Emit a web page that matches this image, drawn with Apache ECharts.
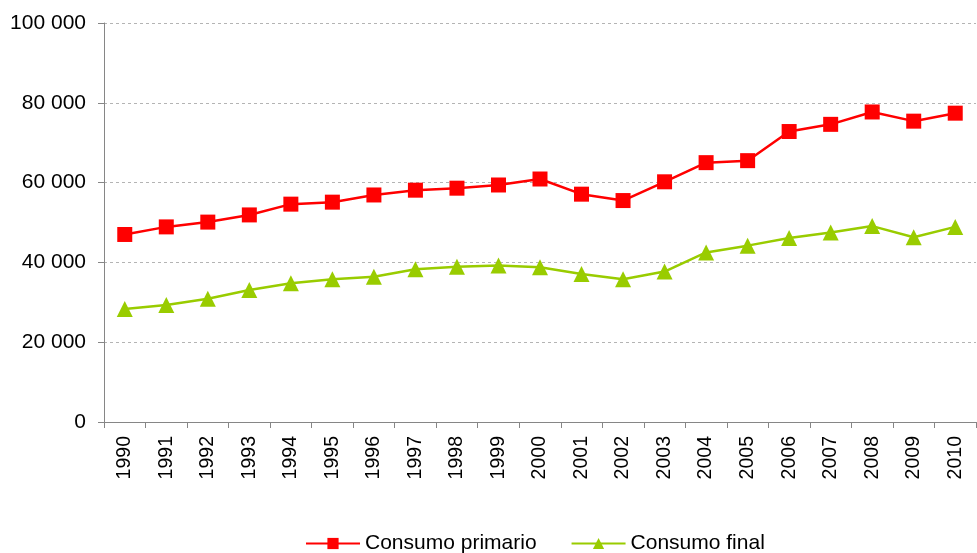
<!DOCTYPE html>
<html><head><meta charset="utf-8">
<script src="https://cdn.jsdelivr.net/npm/echarts@6/dist/echarts.min.js"></script>
<style>html,body{margin:0;padding:0;background:#fff}#c{width:977px;height:553px}</style>
</head><body><div id="c"></div>
<script>
const years = ['1990','1991','1992','1993','1994','1995','1996','1997','1998','1999','2000','2001','2002','2003','2004','2005','2006','2007','2008','2009','2010'];
const primario = [47000,48900,50100,51900,54600,55100,56900,58100,58600,59400,60900,57100,55500,60200,65000,65500,72800,74600,77700,75400,77400];
const final = [28300,29300,30900,33100,34800,35800,36400,38300,38900,39200,38800,37100,35800,37700,42500,44200,46100,47500,49100,46300,48900];
const seriesNames = ['Consumo primario','Consumo final'];

const chart = echarts.init(document.getElementById('c'));
const font = 'Liberation Sans, Arial, sans-serif';
chart.setOption({
  animation:false,
  textStyle:{fontFamily:font},
  grid:{left:104,right:1,top:23,bottom:131,containLabel:false},
  legend:{
    bottom:-6,left:300,itemWidth:54,itemHeight:14,itemGap:34,
    textStyle:{fontSize:21,color:'#000',fontFamily:font},
    data:seriesNames
  },
  xAxis:{
    type:'category',data:years,boundaryGap:true,
    axisLine:{lineStyle:{color:'#868686',width:1}},
    axisTick:{show:true,length:6,lineStyle:{color:'#868686'}},
    axisLabel:{rotate:90,fontSize:19.5,color:'#000',margin:14,fontFamily:font}
  },
  yAxis:{
    type:'value',min:0,max:100000,interval:20000,
    axisLine:{show:true,lineStyle:{color:'#868686'}},
    axisTick:{show:true,length:6,lineStyle:{color:'#868686'}},
    splitLine:{lineStyle:{color:'#b4b4b4',type:[3,3]}},
    axisLabel:{fontSize:21,color:'#000',margin:18,fontFamily:font,
      formatter:v=>String(v).replace(/\B(?=(\d{3})+(?!\d))/g,' ')}
  },
  series:[
    {name:seriesNames[0],type:'line',data:primario,symbol:'rect',symbolSize:15,
     lineStyle:{color:'#ff0000',width:2.5},itemStyle:{color:'#ff0000'}},
    {name:seriesNames[1],type:'line',data:final,symbol:'triangle',symbolSize:16,
     lineStyle:{color:'#99cc00',width:2.5},itemStyle:{color:'#99cc00'}}
  ]
});
</script></body></html>
